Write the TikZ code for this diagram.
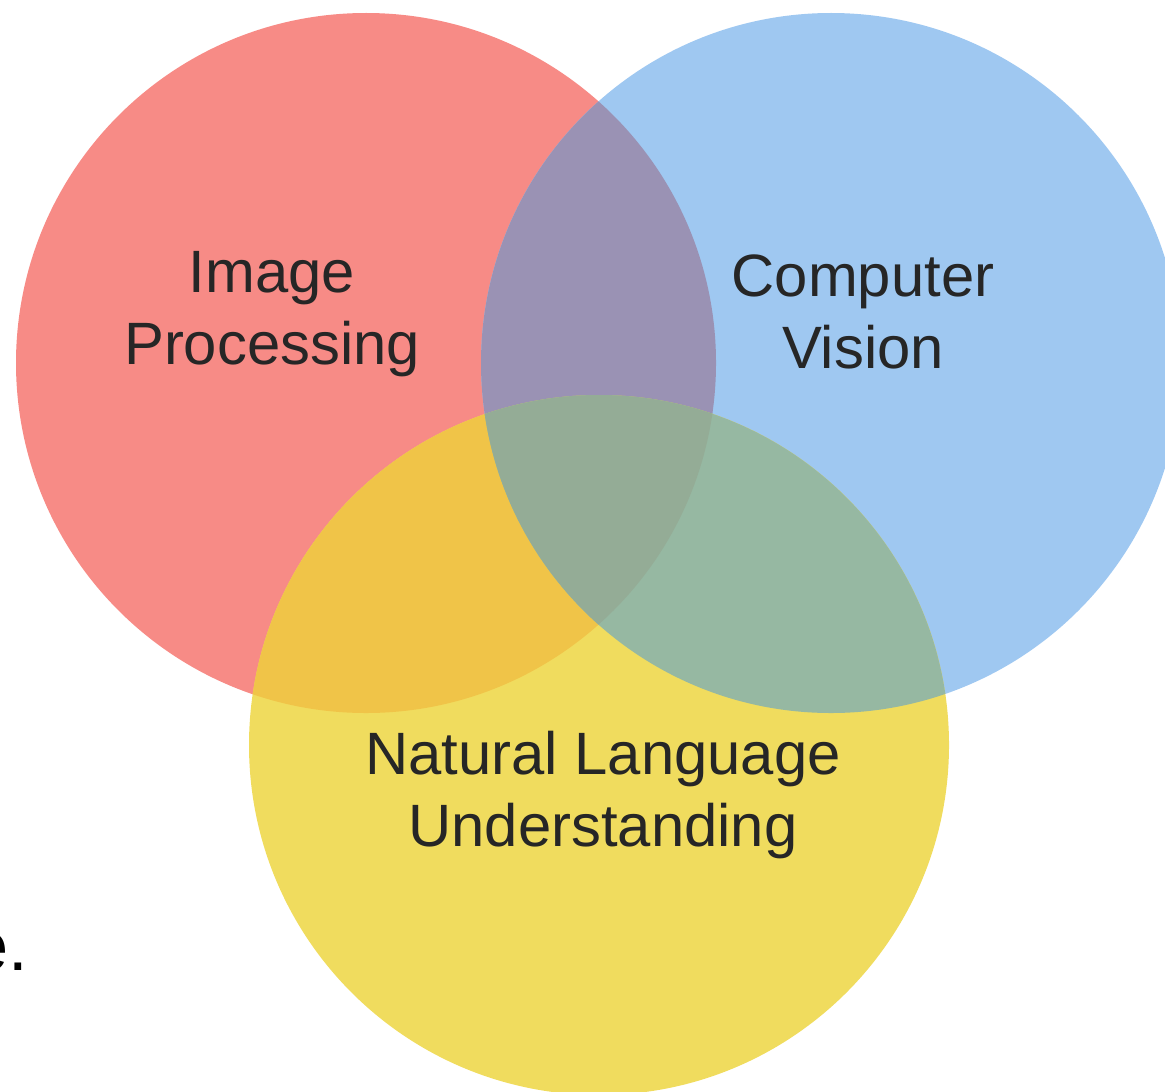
\documentclass[tikz,border=0pt]{standalone}
\usepackage{fontspec}
\setmainfont{Liberation Sans}
\usetikzlibrary{positioning}
\definecolor{vennRed}{HTML}{F78B86}
\definecolor{vennBlue}{HTML}{9FC8F1}
\definecolor{vennYellow}{HTML}{F0DC5E}
\definecolor{redBlue}{HTML}{9A92B4}
\definecolor{redYellow}{HTML}{F0C448}
\definecolor{blueYellow}{HTML}{96B8A2}
\definecolor{allThree}{HTML}{94AC96}
\definecolor{textGray}{HTML}{262626}
\begin{document}
\begin{tikzpicture}[
  x=0.01cm, y=-0.01cm,
  venntext/.style={font=\fontsize{17}{20.5}\selectfont, text=textGray, align=center, inner sep=0pt}
]
\useasboundingbox (0,0) rectangle (1165,1091);
\coordinate (ipc) at (366,363);
\coordinate (cvc) at (831,363);
\coordinate (nlc) at (599,745);
\fill[vennRed] (ipc) circle[radius=350];
\fill[vennBlue] (cvc) circle[radius=350];
\fill[vennYellow] (nlc) circle[radius=350];
\begin{scope}
  \clip (ipc) circle[radius=350];
  \fill[redBlue] (cvc) circle[radius=350];
  \fill[redYellow] (nlc) circle[radius=350];
\end{scope}
\begin{scope}
  \clip (cvc) circle[radius=350];
  \fill[blueYellow] (nlc) circle[radius=350];
\end{scope}
\begin{scope}
  \clip (ipc) circle[radius=350];
  \clip (cvc) circle[radius=350];
  \fill[allThree] (nlc) circle[radius=350];
\end{scope}
\node[venntext] (ip) at (272,314) {Image\\Processing};
\node[venntext] (cv) at (863,312) {Computer\\Vision};
\node[venntext] (nlu) at (603,795) {Natural Language\\Understanding};
\node[font=\fontsize{20}{24}\selectfont, anchor=base east, inner sep=0pt] (stray) at (29,970) {e.};
\end{tikzpicture}
\end{document}
